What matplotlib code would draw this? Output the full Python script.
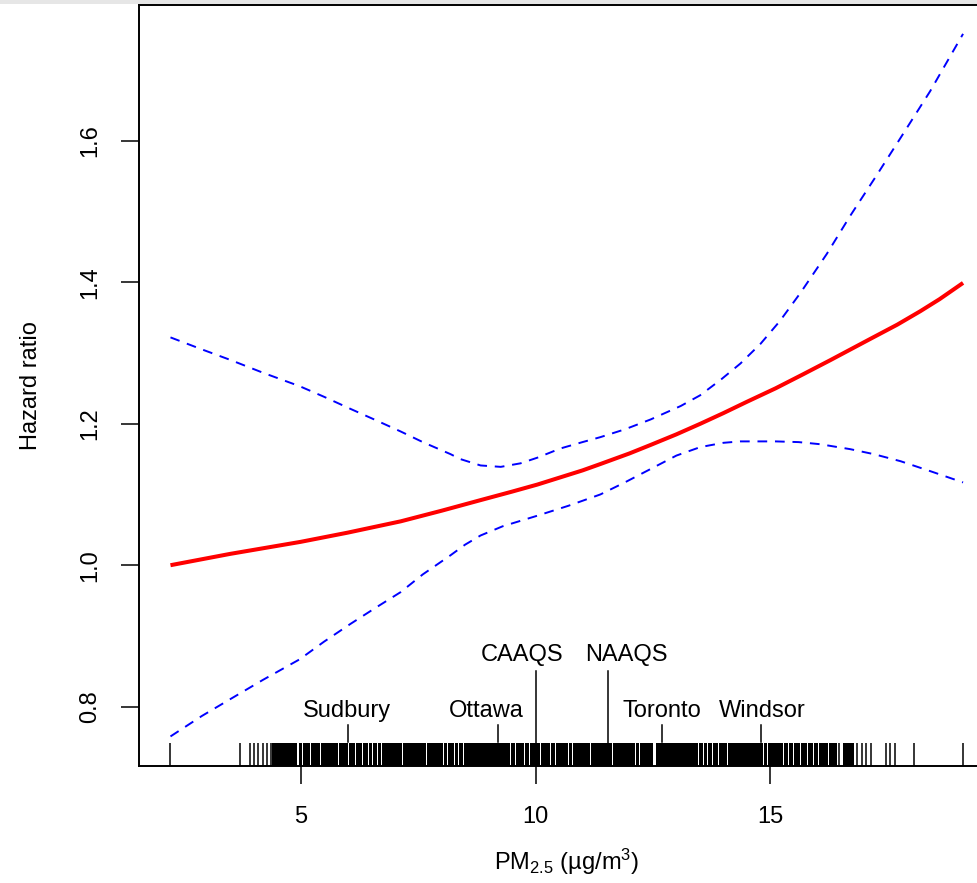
import matplotlib
matplotlib.use("Agg")
import matplotlib.pyplot as plt
from matplotlib.patches import Rectangle
import matplotlib.transforms as mtransforms

plt.rcParams['font.family'] = ['Liberation Sans', 'DejaVu Sans']
plt.rcParams['mathtext.default'] = 'regular'

# hazard ratio curve and 95% band
pm_fit = [2.23, 3.5, 5.0, 6.0, 7.13, 8.0, 8.83, 9.5, 10.04, 11.0, 11.38, 12.0, 12.45, 13.0,
          13.51, 14.0, 14.5, 15.11, 15.7, 16.28, 17.13, 17.7, 18.19, 18.6, 19.1]
hr_fit = [1.000, 1.016, 1.033, 1.046, 1.062, 1.077, 1.092, 1.104, 1.114, 1.134, 1.143, 1.158,
          1.170, 1.185, 1.200, 1.215, 1.231, 1.250, 1.270, 1.290, 1.320, 1.340, 1.359, 1.376, 1.399]

pm_upper = [2.23, 2.9, 3.51, 4.2, 4.98, 5.5, 6.06, 6.6, 7.13, 7.6, 8.19, 8.4, 8.83, 9.26, 9.68,
            10.04, 10.53, 11.0, 11.38, 11.9, 12.45, 13.09, 13.5, 13.94, 14.36, 14.79, 15.2,
            15.64, 16.2, 16.70, 17.25, 17.77, 18.40, 19.1]
hr_upper = [1.322, 1.305, 1.290, 1.272, 1.253, 1.238, 1.221, 1.205, 1.189, 1.174, 1.157, 1.150,
            1.141, 1.139, 1.144, 1.152, 1.165, 1.174, 1.181, 1.192, 1.206, 1.225, 1.240, 1.262,
            1.285, 1.313, 1.345, 1.385, 1.440, 1.494, 1.550, 1.604, 1.670, 1.751]

pm_lower = [2.23, 2.9, 3.51, 4.2, 4.98, 5.5, 6.06, 6.6, 7.13, 7.6, 8.19, 8.5, 8.83, 9.3, 10.04,
            10.7, 11.38, 11.9, 12.45, 13.0, 13.51, 14.0, 14.36, 15.11, 15.6, 16.06, 16.70, 17.2,
            17.77, 18.4, 19.1]
hr_lower = [0.758, 0.787, 0.811, 0.838, 0.867, 0.892, 0.917, 0.940, 0.962, 0.987, 1.014, 1.029,
            1.042, 1.055, 1.070, 1.084, 1.100, 1.117, 1.136, 1.155, 1.167, 1.173, 1.175, 1.175,
            1.174, 1.171, 1.164, 1.157, 1.147, 1.133, 1.117]

# rug: isolated observations and stretches where the ticks merge into solid black
rug_ticks = [2.23, 3.72, 3.92, 4.01, 4.09, 4.19, 4.29, 4.36,
             16.45, 16.85, 16.95, 17.04, 17.15, 17.45, 17.55, 17.65, 18.05, 19.1]
rug_solid = [(4.40, 4.92), (4.98, 5.03), (5.06, 5.19), (5.23, 5.29), (5.32, 5.40), (5.45, 5.59),
             (5.62, 5.67), (5.70, 5.79), (5.83, 5.93), (5.96, 6.00), (6.04, 6.15), (6.19, 6.30),
             (6.34, 6.43), (6.47, 6.52), (6.55, 6.62), (6.66, 6.71), (6.75, 7.15), (7.19, 7.66),
             (7.70, 8.03), (8.06, 8.11), (8.14, 8.19), (8.22, 8.26), (8.30, 8.35), (8.38, 8.45),
             (8.48, 9.45), (9.49, 9.56), (9.60, 9.65), (9.68, 9.75), (9.79, 9.86), (9.89, 9.95),
             (9.98, 10.09), (10.13, 10.30), (10.34, 10.41), (10.45, 10.48), (10.51, 10.59),
             (10.62, 10.69), (10.72, 10.77), (10.80, 11.16), (11.19, 11.62), (11.66, 12.11),
             (12.15, 12.19), (12.23, 12.50), (12.57, 13.45), (13.49, 13.56), (13.60, 13.65),
             (13.69, 13.75), (13.78, 13.88), (13.92, 14.06), (14.10, 14.17), (14.20, 14.84),
             (14.87, 14.92), (14.95, 15.02), (15.05, 15.13), (15.16, 15.26), (15.29, 15.37),
             (15.40, 15.48), (15.51, 15.62), (15.66, 15.77), (15.80, 15.90), (15.94, 16.01),
             (16.04, 16.12), (16.15, 16.22), (16.26, 16.32), (16.35, 16.40), (16.55, 16.77)]

# cities and air quality standards
city_names = ["Sudbury", "Ottawa", "Toronto", "Windsor"]
city_pm = [6.0, 9.2, 12.7, 14.8]
city_text_x = [5.98, 8.96, 12.68, 14.83]
std_names = ["CAAQS", "NAAQS"]
std_pm = [10.0, 11.55]
std_text_x = [9.72, 11.94]

fig = plt.figure(figsize=(9.78, 8.83), dpi=100)
ax = fig.add_axes([139/978, 117/883, 856/978, 761/883])

ax.plot(pm_upper, hr_upper, color='blue', lw=1.4, dashes=(5, 4))
ax.plot(pm_lower, hr_lower, color='blue', lw=1.4, dashes=(5, 4))
ax.plot(pm_fit, hr_fit, color='red', lw=2.9, solid_capstyle='butt')

trans = mtransforms.blended_transform_factory(ax.transData, ax.transAxes)
ax.vlines(rug_ticks, 0, 0.03, color='black', lw=1.1, transform=trans)
for a, b in rug_solid:
    # slits between stretches are about one pixel wide
    ax.add_patch(Rectangle((a - 0.01, 0), b - a + 0.02, 0.03, transform=trans,
                           color='black', lw=0, antialiased=False))

for name, x, tx in zip(city_names, city_pm, city_text_x):
    ax.plot([x, x], [0.750, 0.774], color='black', lw=1.1)
    ax.text(tx, 0.794, name, ha='center', va='center', fontsize=17)
for name, x, tx in zip(std_names, std_pm, std_text_x):
    ax.plot([x, x], [0.7162, 0.850], color='black', lw=1.1)
    ax.text(tx, 0.873, name, ha='center', va='center', fontsize=17)

ax.set_xlim(1.56, 19.78)
ax.set_ylim(0.7162, 1.7918)
ax.set_xticks([5, 10, 15])
ax.set_yticks([0.8, 1.0, 1.2, 1.4, 1.6])
ax.set_yticklabels(["0.8", "1.0", "1.2", "1.4", "1.6"], rotation=90, va='center')
ax.tick_params(length=13, width=1.1, labelsize=17, direction='out')
ax.tick_params(axis='x', pad=16)
ax.tick_params(axis='y', pad=14)
for s in ax.spines.values():
    s.set_linewidth(1.4)

ax.set_xlabel(r"PM$_{2.5}$ (µg/m$^{3}$)", fontsize=17, labelpad=13)
ax.set_ylabel("Hazard ratio", fontsize=17, labelpad=27)

fig.add_artist(Rectangle((0, 1 - 4/883), 1, 4/883, transform=fig.transFigure,
                         color='#e6e6e6', lw=0))

fig.savefig("out.png", dpi=100)
